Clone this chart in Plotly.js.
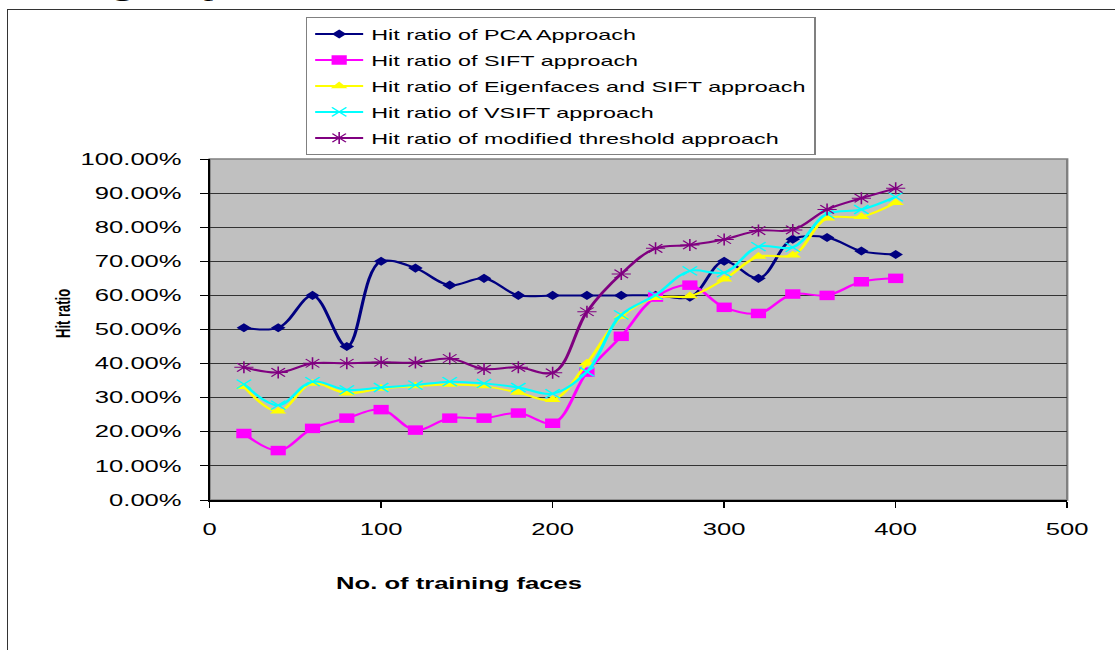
<!DOCTYPE html>
<html>
<head>
<meta charset="utf-8">
<script src="https://cdn.plot.ly/plotly-3.0.1.min.js"></script>
<style>
  html, body { margin: 0; padding: 0; background: #ffffff; overflow: hidden; width: 1115px; height: 650px; }
  #frame { position: absolute; left: 7px; top: 9px; width: 1200px; height: 700px;
           border-left: 1.5px solid #333; border-top: 1.5px solid #333; }
  #wrap { position: absolute; left: 0; top: 0; width: 697px; height: 650px;
          transform: scaleX(1.6); transform-origin: 0 0; }
</style>
</head>
<body>
<div id="frame"></div>
<div id="wrap"><div id="chart"></div></div>
<script>
// Number of training faces
const trainingFaces = [20, 40, 60, 80, 100, 120, 140, 160, 180, 200, 220, 240, 260, 280, 300, 320, 340, 360, 380, 400];

// Hit ratios (%)
const pcaHit        = [50.5, 50.5, 60, 45, 70, 68, 63, 65, 60, 60, 60, 60, 60, 59.5, 70, 65, 76.5, 77, 73, 72];
const siftHit       = [19.5, 14.5, 21, 24, 26.5, 20.5, 24, 24, 25.5, 22.5, 37.5, 48, 59.5, 63, 56.5, 54.7, 60.4, 60, 64, 65];
const eigenSiftHit  = [33.2, 26, 34.2, 31.3, 32.7, 33.4, 33.9, 33.4, 31.5, 29.4, 40.1, 53.8, 59.3, 59.8, 64.7, 71.4, 71.8, 82.6, 83.1, 87.2];
const vsiftHit      = [34, 27.8, 34.7, 32.3, 33, 33.7, 34.7, 34.2, 33, 31.2, 37.6, 54.3, 60.1, 67.2, 66.7, 74.3, 74.1, 83.9, 85.2, 88.9];
const modThreshHit  = [38.9, 37.4, 40.1, 40.1, 40.4, 40.3, 41.5, 38.4, 38.9, 37.3, 55.2, 66.3, 73.8, 74.8, 76.4, 79, 79.2, 85.2, 88.5, 91.4];

const seriesNames = [
  "Hit ratio of PCA Approach",
  "Hit ratio of SIFT approach",
  "Hit ratio of Eigenfaces and SIFT approach",
  "Hit ratio of VSIFT approach",
  "Hit ratio of modified threshold approach"
];

const xTickVals = [0, 100, 200, 300, 400, 500];
const yTickVals = [0, 10, 20, 30, 40, 50, 60, 70, 80, 90, 100];

const xTitle = "No. of training faces";
const yTitle = "Hit ratio";
const topText = "training samples.";

const lineShape = {shape: 'spline', smoothing: 1, width: 2};

const traces = [
  {x: trainingFaces, y: pcaHit, name: seriesNames[0], legendgroup: 'g1', mode: 'lines+markers',
   line: Object.assign({color: '#000080'}, lineShape),
   marker: {symbol: 'diamond', size: 7, color: '#000080'}},
  {x: trainingFaces, y: siftHit, name: seriesNames[1], legendgroup: 'g2', mode: 'lines+markers',
   line: Object.assign({color: '#ff00ff'}, lineShape),
   marker: {symbol: 'square', size: 9.5, color: '#ff00ff'}},
  {x: trainingFaces, y: eigenSiftHit, name: seriesNames[2], legendgroup: 'g3', mode: 'lines+markers',
   line: Object.assign({color: '#ffff00'}, lineShape),
   marker: {symbol: 'triangle-up', size: 9, color: '#ffff00'}},
  {x: trainingFaces, y: vsiftHit, name: seriesNames[3], legendgroup: 'g4', mode: 'lines+markers',
   line: Object.assign({color: '#00ffff'}, lineShape),
   marker: {symbol: 'x-thin-open', size: 9, color: '#00ffff', line: {color: '#00ffff', width: 1.2}}},
  {x: trainingFaces, y: modThreshHit, name: seriesNames[4], legendgroup: 'g5', mode: 'lines+markers',
   line: Object.assign({color: '#800080'}, lineShape),
   marker: {symbol: 'asterisk-open', size: 10, color: '#800080', line: {color: '#800080', width: 1}}}
];

const layout = {
  width: 697,
  height: 650,
  margin: {l: 130.6, r: 30.1, t: 159, b: 150, pad: 0},
  paper_bgcolor: 'rgba(0,0,0,0)',
  plot_bgcolor: '#c0c0c0',
  font: {family: 'Liberation Sans, Arial, sans-serif', size: 16, color: '#000'},
  showlegend: true,
  legend: {
    x: 0.1119, xanchor: 'left', y: 1.4164, yanchor: 'top',
    bgcolor: '#ffffff', bordercolor: '#808080', borderwidth: 1,
    font: {family: 'Liberation Sans, Arial, sans-serif', size: 14.6, color: '#000'},
    tracegroupgap: 4, traceorder: 'grouped'
  },
  xaxis: {
    range: [0, 500], tickvals: xTickVals, ticktext: xTickVals.map(String),
    showgrid: false, zeroline: false,
    showline: true, linecolor: '#000', linewidth: 1.5,
    ticks: 'outside', ticklen: 6, tickcolor: '#000', tickwidth: 1,
    ticklabelstandoff: 8,
    tickfont: {family: 'Liberation Sans, Arial, sans-serif', size: 16, color: '#000'},
    fixedrange: true
  },
  yaxis: {
    range: [0, 100], tickvals: yTickVals, ticktext: yTickVals.map(v => v.toFixed(2) + '%'),
    showgrid: true, gridcolor: '#333333', gridwidth: 1, zeroline: false,
    showline: true, linecolor: '#000', linewidth: 1.3,
    ticks: 'outside', ticklen: 5, tickcolor: '#000', tickwidth: 1,
    ticklabelstandoff: 8,
    tickfont: {family: 'Liberation Sans, Arial, sans-serif', size: 16, color: '#000'},
    fixedrange: true
  },
  shapes: [
    {type: 'rect', xref: 'paper', yref: 'paper', x0: 0, x1: 1, y0: 0, y1: 1,
     line: {color: '#808080', width: 1.5}, fillcolor: 'rgba(0,0,0,0)', layer: 'below'}
  ],
  annotations: [
    {text: '<b>' + xTitle + '</b>', xref: 'paper', yref: 'paper', x: 0.291, y: -0.246,
     xanchor: 'center', yanchor: 'middle', showarrow: false,
     font: {family: 'Liberation Sans, Arial, sans-serif', size: 16, color: '#000'}},
    {text: '<b>' + yTitle + '</b>', xref: 'paper', yref: 'paper', x: -0.1697, y: 0.5455,
     xanchor: 'center', yanchor: 'middle', textangle: -90, showarrow: false,
     font: {family: 'Liberation Sans, Arial, sans-serif', size: 13, color: '#000'}},
    {text: topText, xref: 'paper', yref: 'paper', x: -0.2323, y: 1.457,
     xanchor: 'left', yanchor: 'bottom', showarrow: false,
     font: {family: 'Liberation Serif, Times New Roman, serif', size: 24, color: '#000'}}
  ]
};

Plotly.newPlot('chart', traces, layout, {staticPlot: true, displayModeBar: false});
</script>
</body>
</html>
